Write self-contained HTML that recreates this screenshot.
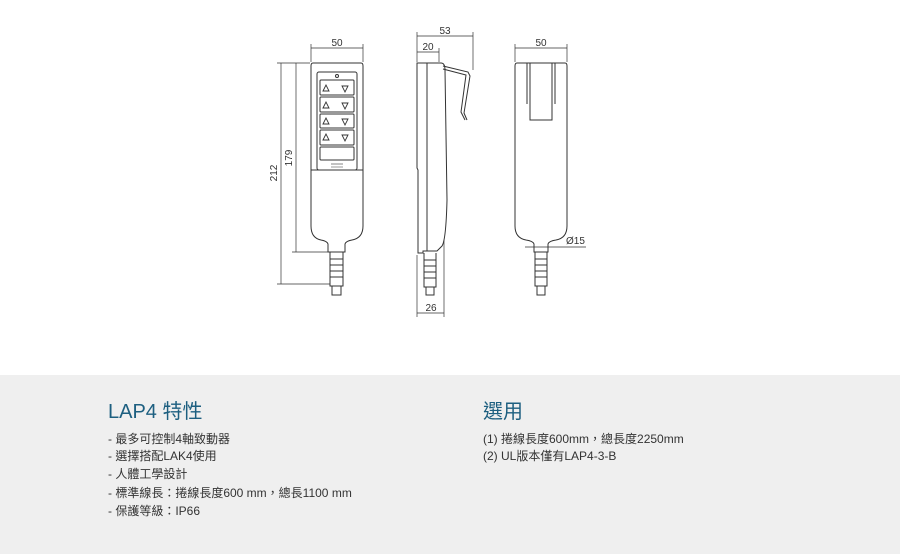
<!DOCTYPE html>
<html><head><meta charset="utf-8"><style>
body{margin:0;width:900px;height:554px;background:#fff;overflow:hidden;position:relative;font-family:"Liberation Sans","Noto Sans CJK TC",sans-serif}
.band{position:absolute;left:0;top:375px;width:900px;height:179px;background:#efefef}
.t{position:absolute;color:#1d5f80;font-size:20px;line-height:24px}
.l{position:absolute;color:#333;font-size:12px;line-height:17px}
</style></head><body>
<svg width="900" height="375" style="position:absolute;left:0;top:0" font-family="Liberation Sans" font-size="10" fill="none" stroke="#333" stroke-width="1">
<!-- Front view -->
<path d="M313,63 H361 Q363,63 363,66 V226 Q363,238 352,240 Q346,241 345,244 V252 H328 V244 Q327,241 321,240 Q311,238 311,226 V66 Q311,63 313,63 Z"/>
<line x1="311" y1="170" x2="363" y2="170"/>
<rect x="317" y="72" width="40" height="98" rx="2"/>
<circle cx="337" cy="76" r="1.5"/>
<rect x="320" y="80" width="34" height="15" rx="1"/>
<rect x="320" y="97" width="34" height="15" rx="1"/>
<rect x="320" y="114" width="34" height="14" rx="1"/>
<rect x="320" y="130" width="34" height="15" rx="1"/>
<rect x="320" y="147" width="34" height="13" rx="1"/>
<g stroke-width="0.9">
<path d="M323,91 L326,85 L329,91Z M342,86 L348,86 L345,92Z"/>
<path d="M323,108 L326,102 L329,108Z M342,103 L348,103 L345,109Z"/>
<path d="M323,124 L326,118 L329,124Z M342,119 L348,119 L345,125Z"/>
<path d="M323,140 L326,134 L329,140Z M342,135 L348,135 L345,141Z"/>
</g>
<line x1="331" y1="164" x2="343" y2="164" stroke-width="0.6"/><line x1="331" y1="167" x2="343" y2="167" stroke-width="0.5"/>
<path d="M330,252 V286 H343 V252 M332,286 V295 H341 V286 M330,259 H343 M330,265 H343 M330,271 H343 M330,277 H343" />
<!-- dims front -->
<g stroke-width="0.7">
<line x1="311" y1="48" x2="363" y2="48"/><line x1="311" y1="44" x2="311" y2="62"/><line x1="363" y1="44" x2="363" y2="62"/>
<line x1="281" y1="63" x2="281" y2="284"/><line x1="277" y1="63" x2="310" y2="63"/><line x1="277" y1="284" x2="330" y2="284"/>
<line x1="296" y1="63" x2="296" y2="252"/><line x1="292" y1="252" x2="328" y2="252"/>
</g>
<g fill="#333" stroke="none">
<text x="337" y="46" text-anchor="middle">50</text>
<text transform="translate(277,173) rotate(-90)" text-anchor="middle">212</text>
<text transform="translate(292,158) rotate(-90)" text-anchor="middle">179</text>
</g>
<!-- Side view -->
<path d="M417,63 H441 Q445,63 445,70 L447,200 Q446,240 442,246 L437,251 H423 V253 H418 V170 L417,168 Z"/>
<line x1="427" y1="63" x2="427" y2="251"/>
<path d="M443,66 L468,72 L470,76 L464,113 L467,120 M443,69 L466,75 L461,112 L465,120"/>
<path d="M424,253 V287 H436 V253 M426,287 V295 H434 V287 M424,260 H436 M424,266 H436 M424,272 H436 M424,278 H436"/>
<g stroke-width="0.7">
<line x1="417" y1="36" x2="473" y2="36"/><line x1="417" y1="32" x2="417" y2="62"/><line x1="473" y1="32" x2="473" y2="70"/>
<line x1="417" y1="52" x2="439" y2="52"/><line x1="439" y1="48" x2="439" y2="62"/>
<line x1="417" y1="313" x2="444" y2="313"/><line x1="417" y1="255" x2="417" y2="317"/><line x1="444" y1="240" x2="444" y2="317"/>
</g>
<g fill="#333" stroke="none">
<text x="445" y="34" text-anchor="middle">53</text>
<text x="428" y="50" text-anchor="middle">20</text>
<text x="431" y="311" text-anchor="middle">26</text>
</g>
<!-- Back view -->
<path d="M517,63 H565 Q567,63 567,66 V226 Q567,238 556,240 Q549,241 548,244 V252 H534 V244 Q533,241 526,240 Q515,238 515,226 V66 Q515,63 517,63 Z"/>
<path d="M527,63 V104 M555,63 V104 M530,63 V120 H552 V63"/>
<path d="M535,252 V286 H547 V252 M537,286 V295 H545 V286 M535,259 H547 M535,265 H547 M535,271 H547 M535,277 H547"/>
<g stroke-width="0.7">
<line x1="515" y1="48" x2="567" y2="48"/><line x1="515" y1="44" x2="515" y2="62"/><line x1="567" y1="44" x2="567" y2="62"/>
<line x1="525" y1="247" x2="586" y2="247"/>
</g>
<g fill="#333" stroke="none">
<text x="541" y="46" text-anchor="middle">50</text>
<text x="566" y="244">Ø15</text>
</g>
</svg>
<div class="band"></div>
<div class="t" style="left:108px;top:400px">LAP4 特性</div>
<div class="t" style="left:483px;top:400px">選用</div>
<div class="l" style="left:108px;top:431px">- 最多可控制4軸致動器</div>
<div class="l" style="left:108px;top:448px">- 選擇搭配LAK4使用</div>
<div class="l" style="left:108px;top:466px">- 人體工學設計</div>
<div class="l" style="left:108px;top:485px">- 標準線長：捲線長度600 mm，總長1100 mm</div>
<div class="l" style="left:108px;top:503px">- 保護等級：IP66</div>
<div class="l" style="left:483px;top:431px">(1) 捲線長度600mm，總長度2250mm</div>
<div class="l" style="left:483px;top:448px">(2) UL版本僅有LAP4-3-B</div>
</body></html>
